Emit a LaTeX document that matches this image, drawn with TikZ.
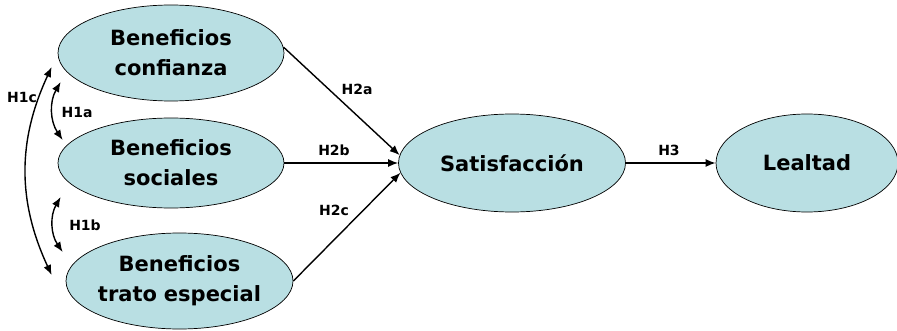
\documentclass[tikz,border=0pt]{standalone}
\usepackage{fontspec}
\setmainfont{DejaVu Sans}
\usetikzlibrary{shapes.geometric,arrows.meta}
\definecolor{ellfill}{RGB}{185,223,227}
\begin{document}
\begin{tikzpicture}[x=1pt,y=1pt,
  ell/.style={ellipse,draw=black,line width=0.7pt,fill=ellfill,inner sep=0pt,align=center,
    font=\fontsize{21}{30}\selectfont\bfseries},
  conn/.style={line width=1.4pt,-{Latex[length=10pt,width=8pt]}},
  biconn/.style={line width=1.4pt,{Latex[length=10pt,width=8pt]}-{Latex[length=10pt,width=8pt]}},
  lab/.style={font=\fontsize{14}{16}\selectfont\bfseries,inner sep=0pt}]
\useasboundingbox (0,0) rectangle (897,330);
\node[ell,minimum width=226pt,minimum height=96pt] (c1) at (171,277) {Beneficios\\confianza};
\node[ell,minimum width=226pt,minimum height=90pt] (c2) at (171,167) {Beneficios\\sociales};
\node[ell,minimum width=227pt,minimum height=96pt,text width=156pt] (c3) at (179.5,49) {Beneficios\\\makebox[156pt]{trato especial}};
\node[ell,minimum width=227pt,minimum height=98pt] (sat) at (512,167) {Satisfacción};
\node[ell,minimum width=182pt,minimum height=98pt] (leal) at (807,167) {Lealtad};
\draw[conn] (c1.3) -- (sat.176);
\draw[conn] (c2.east) -- (sat.west);
\draw[conn] (c3.east) -- (sat.185);
\draw[conn] (sat.east) -- (leal.west);
\draw[biconn] ([xshift=3pt,yshift=-29pt]c1.west) to[bend right=32] ([xshift=5pt,yshift=23pt]c2.west);
\draw[biconn] ([xshift=3pt,yshift=-34pt]c2.west) to[bend right=32] ([xshift=-3pt,yshift=29pt]c3.west);
\draw[biconn] ([xshift=-6pt,yshift=-14pt]c1.west) to[bend right=25] ([xshift=-14pt,yshift=6pt]c3.west);
\node[lab] (h2a) at (357,241) {H2a};
\node[lab] (h2b) at (334,180) {H2b};
\node[lab] (h2c) at (334,120) {H2c};
\node[lab] (h3) at (669,180) {H3};
\node[lab] (h1c) at (22,233) {H1c};
\node[lab] (h1a) at (77,218) {H1a};
\node[lab] (h1b) at (85,105) {H1b};
\end{tikzpicture}
\end{document}
